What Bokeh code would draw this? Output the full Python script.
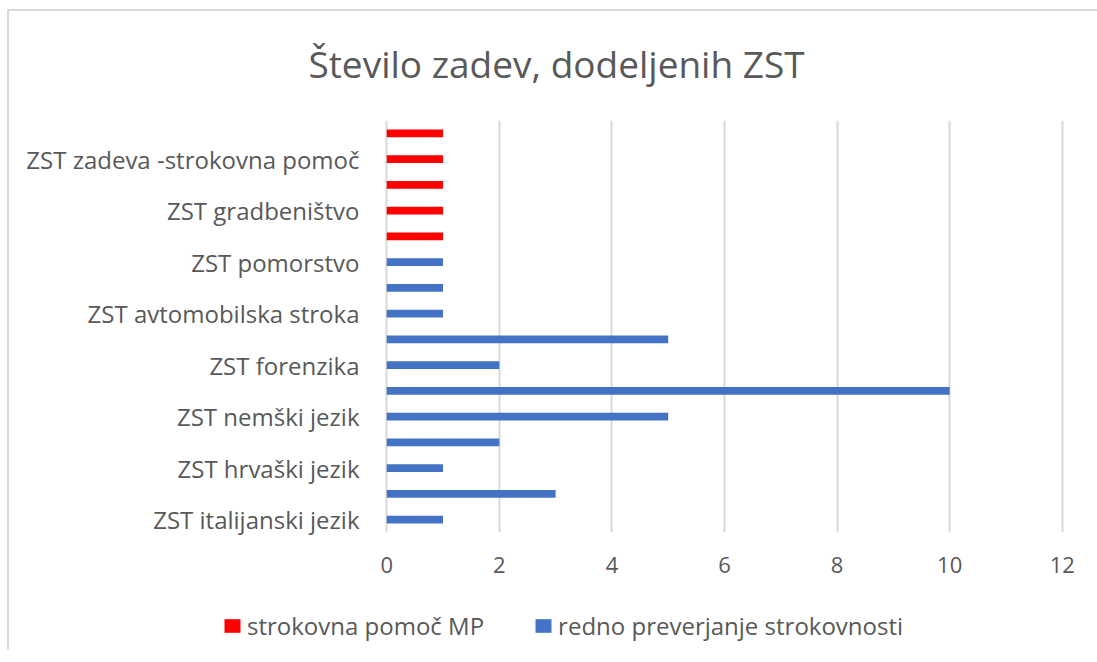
from bokeh.plotting import figure
from bokeh.layouts import column
from bokeh.models import Range1d, FixedTicker, Label, Legend, LegendItem, ColumnDataSource
from bokeh.embed import file_html
from bokeh.resources import INLINE

# categories from bottom to top (only every other label is shown in the original)
categories = [
    "ZST italijanski jezik", "", "ZST hrvaški jezik", "", "ZST nemški jezik", "",
    "ZST forenzika", "", "ZST avtomobilska stroka", "", "ZST pomorstvo", "",
    "ZST gradbeništvo", "", "ZST zadeva -strokovna pomoč", "",
]
redno = [1, 3, 1, 2, 5, 10, 2, 5, 1, 1, 1, 0, 0, 0, 0, 0]
strokovna = [0, 0, 0, 0, 0, 0, 0, 0, 0, 0, 0, 1, 1, 1, 1, 1]
series_names = ["strokovna pomoč MP", "redno preverjanje strokovnosti"]
series_colors = ["#FF0000", "#4472C4"]
x_ticks = [0, 2, 4, 6, 8, 10, 12]
title_text = "Število zadev, dodeljenih ZST"

FONT = "Open Sans"
GREY = "#595959"
W = 1088


def strip(height):
    f = figure(width=W, height=height, output_backend="svg", toolbar_location=None,
               x_axis_type=None, y_axis_type=None, x_range=Range1d(100, 101), y_range=Range1d(100, 101),
               min_border_left=0, min_border_right=0, min_border_top=0, min_border_bottom=0,
               outline_line_color=None, title=None)
    f.frame_align = False
    f.xgrid.visible = False
    f.ygrid.visible = False
    return f


# title strip
tf = strip(109)
tf.add_layout(Label(x=547, y=57, x_units="screen", y_units="screen", text=title_text,
                    text_align="center", text_baseline="middle", text_font=FONT,
                    text_font_size="37px", text_color=GREY))

# main chart
p = figure(width=W, height=466, output_backend="svg", toolbar_location=None,
           x_range=Range1d(-0.04, 12.04), y_range=Range1d(-0.5, len(categories) - 0.5),
           min_border_left=375, min_border_right=33, min_border_top=0, min_border_bottom=54,
           outline_line_color=None, title=None)
p.frame_align = False

idx = list(range(len(categories)))
src_b = ColumnDataSource(dict(y=[i for i in idx if redno[i] > 0], v=[redno[i] for i in idx if redno[i] > 0]))
src_r = ColumnDataSource(dict(y=[i for i in idx if strokovna[i] > 0], v=[strokovna[i] for i in idx if strokovna[i] > 0]))

p.hbar(y="y", right="v", left=0, height=0.3, source=src_b, color=series_colors[1], line_color=None)
p.hbar(y="y", right="v", left=0, height=0.3, source=src_r, color=series_colors[0], line_color=None)

p.xaxis.ticker = FixedTicker(ticks=x_ticks)
p.xaxis.axis_line_color = None
p.xaxis.major_tick_line_color = None
p.xaxis.minor_tick_line_color = None
p.xaxis.major_label_text_font = FONT
p.xaxis.major_label_text_font_size = "22px"
p.xaxis.major_label_text_color = GREY
p.xaxis.major_label_standoff = 18

shown = [i for i, c in enumerate(categories) if c]
p.yaxis.ticker = FixedTicker(ticks=shown)
p.yaxis.major_label_overrides = {i: categories[i] for i in shown}
p.yaxis.axis_line_color = None
p.yaxis.major_tick_line_color = None
p.yaxis.minor_tick_line_color = None
p.yaxis.major_label_text_font = FONT
p.yaxis.major_label_text_font_size = "24px"
p.yaxis.major_label_text_color = GREY
p.yaxis.major_label_standoff = 19

p.ygrid.grid_line_color = None
p.xgrid.ticker = FixedTicker(ticks=x_ticks)
p.xgrid.grid_line_color = "#D9D9D9"
p.xgrid.grid_line_width = 2

# legend strip (its bars lie outside its visible range; only the legend shows)
lg = strip(64)
lr = lg.hbar(y="y", right="v", left=0, height=0.3, source=src_r, color=series_colors[0], line_color=None)
lb = lg.hbar(y="y", right="v", left=0, height=0.3, source=src_b, color=series_colors[1], line_color=None)
legend = Legend(items=[LegendItem(label=series_names[0], renderers=[lr]),
                       LegendItem(label=series_names[1], renderers=[lb])],
                orientation="horizontal", location=(213, 8),
                glyph_width=20, glyph_height=17, label_standoff=5, spacing=49,
                padding=0, margin=0, border_line_color=None, background_fill_alpha=0,
                label_text_font=FONT, label_text_font_size="24px", label_text_color=GREY)
lg.add_layout(legend, "center")

layout = column(tf, p, lg, spacing=0,
                styles={"margin-left": "7px", "margin-top": "9px",
                        "border-top": "2px solid #d9d9d9", "border-left": "2px solid #d9d9d9"})

open("out.html", "w").write(file_html(layout, INLINE))
